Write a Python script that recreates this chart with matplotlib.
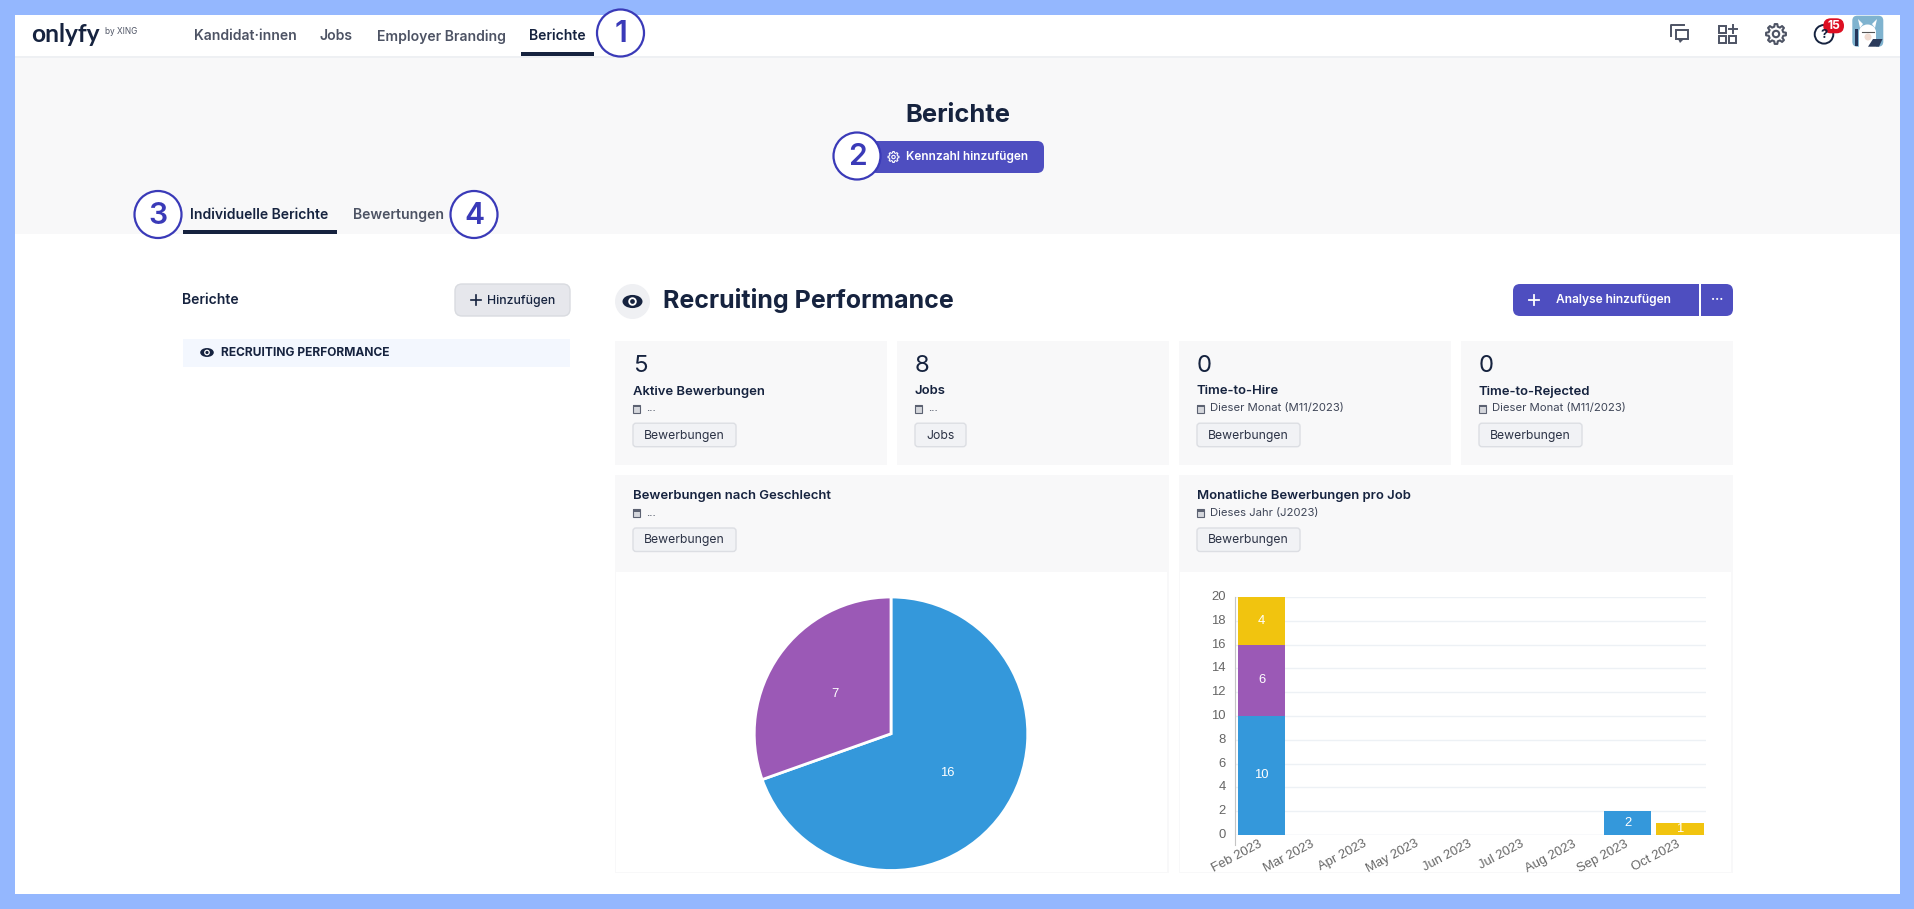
import math

import matplotlib
import matplotlib.pyplot as plt
from matplotlib.patches import Circle, FancyBboxPatch, Rectangle, Polygon, Ellipse
from matplotlib.transforms import ScaledTranslation

matplotlib.use('Agg')

W, H = 1915, 909
plt.rcParams['font.family'] = ['Inter', 'DejaVu Sans']

# colours
BORDER = '#94b7fe'
HERO = '#f8f8f9'
CARD = '#f8f8f9'
NAVY = '#16233f'
GREY = '#4d5364'
INDIGO = '#4e4ec0'
RING = '#3a3ab8'
CHIP = '#f1f2f5'
BLUE = '#3498db'
PURPLE = '#9b59b6'
YELLOW = '#f1c40f'

# chart data
gender_values = [16, 7]
months = ['Feb 2023', 'Mar 2023', 'Apr 2023', 'May 2023', 'Jun 2023',
          'Jul 2023', 'Aug 2023', 'Sep 2023', 'Oct 2023']
job_a = [10, 0, 0, 0, 0, 0, 0, 2, 0]
job_b = [6, 0, 0, 0, 0, 0, 0, 0, 0]
job_c = [4, 0, 0, 0, 0, 0, 0, 0, 1]
y_ticks = list(range(0, 21, 2))

# page text
nav_items = [('Kandidat·innen', 194, GREY), ('Jobs', 320, GREY),
             ('Employer Branding', 377, GREY), ('Berichte', 529, NAVY)]
cards = [(615, 887, '5', 'Aktive Bewerbungen', '...', 'Bewerbungen'),
         (897, 1169, '8', 'Jobs', '...', 'Jobs'),
         (1179, 1451, '0', 'Time-to-Hire', 'Dieser Monat (M11/2023)', 'Bewerbungen'),
         (1461, 1733, '0', 'Time-to-Rejected', 'Dieser Monat (M11/2023)', 'Bewerbungen')]
panels = [(615, 1169, 'Bewerbungen nach Geschlecht', '...'),
          (1179, 1733, 'Monatliche Bewerbungen pro Job', 'Dieses Jahr (J2023)')]
rings = [('1', 620.5, 33), ('2', 857, 156), ('3', 158, 214.5), ('4', 474, 214.5)]


def pt(px):
    return px * 0.72


def rect(ax, x0, y0, x1, y1, color, **kw):
    ax.add_patch(Rectangle((x0, y0), x1 - x0, y1 - y0, fc=color, ec='none', **kw))


def rbox(ax, x0, y0, x1, y1, color, r=5, ec='none', lw=1):
    ax.add_patch(FancyBboxPatch((x0 + r, y0 + r), x1 - x0 - 2 * r, y1 - y0 - 2 * r,
                                boxstyle='round,pad=%s,rounding_size=%s' % (r, r),
                                fc=color, ec=ec, lw=lw))


def label(ax, x, y, s, size, color=NAVY, weight='normal', ha='left', **kw):
    ax.text(x, y, s, fontsize=pt(size), color=color, fontweight=weight, ha=ha,
            va='center', **kw)


def eye(ax, x, y, color=NAVY, scale=1.0):
    ax.add_patch(Ellipse((x, y), 16 * scale, 10.5 * scale, fc=color, ec='none'))
    ax.add_patch(Circle((x, y), 3.4 * scale, fc='white', ec='none'))
    ax.add_patch(Circle((x, y), 1.9 * scale, fc=color, ec='none'))


def calendar(ax, x, y):
    ax.add_patch(Rectangle((x + 0.5, y - 4), 7, 8, fc='#d5d7dc', ec='#5c6272', lw=0.8))
    rect(ax, x + 0.5, y - 4, x + 7.5, y - 1.5, '#5c6272')


def chip(ax, x, y, s):
    w = 103 if s != 'Jobs' else 51
    rbox(ax, x, y, x + w, y + 23.5, CHIP, r=3, ec='#dcdee3')
    label(ax, x + w / 2, y + 12.5, s, 12.2, color='#2b3245', ha='center')


def gear(ax, x, y, outer=10, inner=7.5, hole=3.2, color=GREY, lw=1.5, teeth=8):
    pts = []
    step = 2 * math.pi / teeth
    for i in range(teeth):
        for frac, rad in [(-0.3, inner), (-0.17, outer), (0.17, outer), (0.3, inner)]:
            a = (i + frac) * step
            pts.append((x + rad * math.cos(a), y + rad * math.sin(a)))
    ax.add_patch(Polygon(pts, closed=True, fc='none', ec=color, lw=lw, joinstyle='round'))
    ax.add_patch(Circle((x, y), hole, fc='none', ec=color, lw=lw))


def px_axes(fig, x0, y0, x1, y1):
    return fig.add_axes([x0 / W, 1 - y1 / H, (x1 - x0) / W, (y1 - y0) / H])


def draw_icons(ax):
    # chat bubbles
    ax.plot([1684, 1671.5, 1671.5], [25, 25, 36], color=GREY, lw=1.4)
    ax.add_patch(Rectangle((1676.5, 29.5), 12, 9.7, fc='white', ec=GREY, lw=1.4))
    ax.add_patch(Polygon([(1678, 39), (1684, 39), (1680, 43)], fc=GREY, ec='none'))
    # add-widget icon
    for bx, by in [(1719.5, 25.5), (1719.5, 35.5), (1729.5, 35.5)]:
        ax.add_patch(Rectangle((bx, by), 7, 7, fc='none', ec=GREY, lw=1.4))
    ax.plot([1729, 1737], [29, 29], color=GREY, lw=1.4)
    ax.plot([1733, 1733], [25, 33], color=GREY, lw=1.4)
    gear(ax, 1776, 34)
    # help + badge
    ax.add_patch(Circle((1824, 34.3), 9.3, fc='white', ec=NAVY, lw=1.4))
    label(ax, 1824, 35, '?', 13, weight='bold', ha='center')
    rbox(ax, 1823.3, 18.3, 1844, 33.3, '#dd0f22', r=7.5)
    label(ax, 1833.6, 26, '15', 12, color='white', weight='bold', ha='center')
    # avatar
    rbox(ax, 1852.3, 15.7, 1883.3, 46.7, '#7fb3cf', r=5)
    ax.add_patch(Polygon([(1858, 19), (1863, 24), (1860, 28)], fc='white', ec='none'))
    ax.add_patch(Polygon([(1877, 19), (1872, 24), (1875, 28)], fc='white', ec='none'))
    ax.add_patch(Ellipse((1867.5, 32), 17, 15, fc='white', ec='none'))
    rect(ax, 1859.5, 32, 1876, 46.7, 'white')
    ax.add_patch(Ellipse((1868, 37), 7, 7, fc='#f0dcd2', ec='none'))
    ax.plot([1862, 1874], [31.5, 31.5], color='#555555', lw=0.8)
    ax.add_patch(Polygon([(1868, 46.7), (1873, 39), (1882.5, 39), (1879, 46.7)],
                         fc='#2c3c5c', ec='none'))
    rect(ax, 1855, 29, 1858.5, 46, '#24365a')


def draw_page(ax):
    rect(ax, 0, 0, W, H, BORDER)
    rect(ax, 15, 15, 1900, 894, 'white')
    rect(ax, 15, 56, 1900, 233.5, HERO)
    rect(ax, 15, 56, 1900, 58, '#eef0f3')

    # top navigation
    label(ax, 31, 34, 'onlyfy', 24.5, weight='bold', family='Lato')
    label(ax, 105, 31, 'by XING', 8.3, color=GREY)
    for name, x, col in nav_items:
        label(ax, x, 36.5, name, 14, color=col, weight='semibold')
    rect(ax, 521, 52.3, 594, 55.7, NAVY)
    draw_icons(ax)

    # hero
    label(ax, 958, 115, 'Berichte', 25.5, weight='bold', ha='center')
    rbox(ax, 870, 141, 1044, 173, INDIGO, r=7)
    gear(ax, 893.5, 157, outer=5.5, inner=4.2, hole=1.7, color='white', lw=0.8)
    label(ax, 906, 157, 'Kennzahl hinzufügen', 11.9, color='white', weight='semibold')

    # tabs
    label(ax, 190, 215, 'Individuelle Berichte', 14, weight='semibold')
    rect(ax, 183, 230, 337, 233.7, NAVY)
    label(ax, 353, 215, 'Bewertungen', 14, color=GREY, weight='semibold')

    # annotation rings
    for num, x, y in rings:
        ax.add_patch(Circle((x, y), 23.5, fc='white', ec=RING, lw=1.6, zorder=5))
        ax.text(x, y + 1, num, fontsize=pt(30), color=RING, fontweight='semibold',
                ha='center', va='center', zorder=6)

    # left column
    label(ax, 182, 300, 'Berichte', 14, weight='semibold')
    rbox(ax, 455, 284, 570, 316, '#e6e7ec', r=7, ec='#d9dbe0')
    ax.plot([471, 481], [300, 300], color=NAVY, lw=1.2)
    ax.plot([476, 476], [295, 305], color=NAVY, lw=1.2)
    label(ax, 487, 301, 'Hinzufügen', 12.3, weight='medium')
    rect(ax, 183, 339, 570, 367, '#f3f7fe')
    eye(ax, 207, 352.5, scale=0.85)
    label(ax, 221.5, 352.5, 'RECRUITING PERFORMANCE', 12, weight='bold')

    # report header
    ax.add_patch(Ellipse((632.5, 301.5), 35, 35, fc='#eff0f3', ec='none'))
    eye(ax, 632.5, 301.5, scale=1.25)
    label(ax, 663, 300.5, 'Recruiting Performance', 25, weight='bold')
    rbox(ax, 1513, 284, 1733, 316, INDIGO, r=7)
    rect(ax, 1699.3, 284, 1701.3, 316, 'white')
    ax.plot([1529, 1539], [300, 300], color='white', lw=1.3)
    ax.plot([1534, 1534], [295, 305], color='white', lw=1.3)
    label(ax, 1556, 300, 'Analyse hinzufügen', 12, color='white', weight='semibold')
    label(ax, 1717, 297.5, '...', 12.5, color='white', weight='bold', ha='center')

    # kpi cards
    for x0, x1, val, title, period, tag in cards:
        rect(ax, x0, 341, x1, 465, CARD)
        label(ax, x0 + 18, 366, val, 24)
        label(ax, x0 + 18, 391.5, title, 13.1, weight='semibold')
        calendar(ax, x0 + 18, 408.7)
        label(ax, x0 + 31, 408, period, 11.3, color='#3e4557')
        chip(ax, x0 + 18, 423.2, tag)

    # chart panels
    for x0, x1, title, period in panels:
        rect(ax, x0, 475, x1, 873, CARD)
        rect(ax, x0 + 1.5, 572, x1 - 1.5, 872, 'white')
        label(ax, x0 + 18, 495.5, title, 13.1, weight='semibold')
        calendar(ax, x0 + 18, 513)
        label(ax, x0 + 31, 513, period, 11.3, color='#3e4557')
        chip(ax, x0 + 18, 528, 'Bewerbungen')


def draw_pie(fig):
    ax = px_axes(fig, 754, 597, 1028, 870.5)
    ax.pie(gender_values, labels=[str(v) for v in gender_values], colors=[BLUE, PURPLE],
           startangle=90, counterclock=False, labeldistance=0.5, radius=1.0,
           wedgeprops={'edgecolor': 'white', 'linewidth': 2},
           textprops={'color': 'white', 'fontsize': pt(13), 'ha': 'center',
                      'va': 'center', 'family': 'Liberation Sans'})
    ax.set_xlim(-1, 1)
    ax.set_ylim(-1, 1)


def draw_bars(fig):
    ax = px_axes(fig, 1235.4, 597, 1706, 835)
    ax.patch.set_alpha(0)
    xs = list(range(len(months)))
    bottom = [0] * len(months)
    for vals, col in [(job_a, BLUE), (job_b, PURPLE), (job_c, YELLOW)]:
        ax.bar(xs, vals, width=0.91, bottom=bottom, color=col, zorder=3)
        for i, v in enumerate(vals):
            if v:
                ax.text(i, bottom[i] + v / 2, str(v), color='white', fontsize=pt(13),
                        ha='center', va='center', family='Liberation Sans', zorder=4)
        bottom = [b + v for b, v in zip(bottom, vals)]
    ax.set_xlim(-0.5, len(months) - 0.5)
    ax.set_ylim(0, 20)
    ax.set_yticks(y_ticks)
    ax.set_xticks(xs)
    ax.set_xticklabels(months, rotation=28, ha='right', rotation_mode='anchor',
                       family='Liberation Sans', fontsize=pt(13), color='#666666')
    ax.tick_params(axis='y', length=0, pad=7, labelsize=pt(13), labelcolor='#666666')
    ax.tick_params(axis='x', length=0, pad=2)
    # nudge tick labels to where the original renderer puts them
    for t in ax.get_xticklabels():
        t.set_transform(t.get_transform() + ScaledTranslation(-0.03, 0, fig.dpi_scale_trans))
    for t in ax.get_yticklabels():
        t.set_family('Liberation Sans')
        t.set_transform(t.get_transform() + ScaledTranslation(0, 0.015, fig.dpi_scale_trans))
    ax.grid(axis='y', color='#edf1f5', lw=1, zorder=1)
    for side in ['top', 'right', 'bottom']:
        ax.spines[side].set_visible(False)
    ax.spines['left'].set_color('#c4c4c4')
    ax.spines['left'].set_bounds(-0.85, 20)
    ax.axhline(0, color='#edf1f5', lw=1, zorder=1)


def main():
    fig = plt.figure(figsize=(W / 100, H / 100), dpi=100)
    page = fig.add_axes([0, 0, 1, 1])
    page.set_xlim(0, W)
    page.set_ylim(H, 0)
    page.axis('off')
    draw_page(page)
    draw_pie(fig)
    draw_bars(fig)
    fig.savefig('out.png', dpi=100)
    plt.close(fig)


main()
